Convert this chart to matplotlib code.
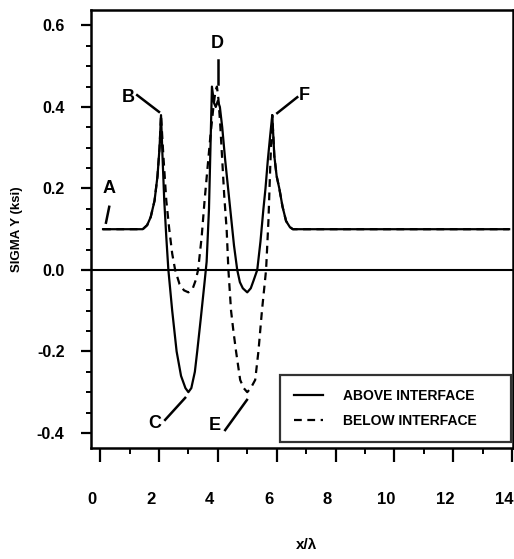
import numpy as np
import matplotlib
matplotlib.use('Agg')
import matplotlib.pyplot as plt
from matplotlib.ticker import MultipleLocator, FixedLocator
from matplotlib.transforms import ScaledTranslation

plt.rcParams['font.family'] = ['Liberation Sans', 'DejaVu Sans']
plt.rcParams['axes.unicode_minus'] = False

####################################################################################################
# Data

x_above = [0.1, 1.0, 1.45, 1.6, 1.72, 1.85, 1.95, 2.02, 2.07, 2.12, 2.18, 2.25, 2.32, 2.45, 2.6,
           2.75, 2.9, 3.0, 3.1, 3.22, 3.3, 3.42, 3.55, 3.62, 3.7, 3.75, 3.8, 3.87, 3.93, 4.0,
           4.07, 4.15, 4.25, 4.35, 4.45, 4.55, 4.66, 4.75, 4.85, 5.0, 5.12, 5.22, 5.34, 5.45,
           5.55, 5.62, 5.7, 5.78, 5.85, 5.92, 6.0, 6.09, 6.2, 6.32, 6.45, 6.55, 10.0, 13.9]
y_above = [0.1, 0.1, 0.1, 0.11, 0.13, 0.17, 0.23, 0.3, 0.38, 0.28, 0.17, 0.08, 0.0, -0.1, -0.2,
           -0.26, -0.29, -0.3, -0.29, -0.25, -0.2, -0.12, -0.03, 0.02, 0.15, 0.3, 0.45, 0.41, 0.40, 0.415,
           0.40, 0.35, 0.27, 0.2, 0.13, 0.06, 0.0, -0.03, -0.045, -0.055, -0.045, -0.025, 0.0, 0.07,
           0.15, 0.2, 0.27, 0.33, 0.38, 0.28, 0.23, 0.2, 0.155, 0.12, 0.105, 0.1, 0.1, 0.1]

x_below = [0.1, 1.0, 1.45, 1.6, 1.72, 1.85, 1.95, 2.02, 2.07, 2.15, 2.25, 2.35, 2.45, 2.55,
           2.7, 2.85, 3.0, 3.15, 3.25, 3.33, 3.45, 3.55, 3.65, 3.75, 3.85, 3.92, 3.97, 4.02,
           4.08, 4.15, 4.22, 4.3, 4.36, 4.45, 4.53, 4.62, 4.76, 4.88, 5.0, 5.12, 5.27, 5.38,
           5.5, 5.64, 5.72, 5.78, 5.85, 5.92, 6.0, 6.09, 6.2, 6.32, 6.45, 6.55, 10.0, 13.9]
y_below = [0.1, 0.1, 0.1, 0.11, 0.13, 0.17, 0.23, 0.3, 0.38, 0.28, 0.17, 0.1, 0.04, 0.0,
           -0.035, -0.05, -0.055, -0.045, -0.025, 0.0, 0.08, 0.17, 0.25, 0.33, 0.4, 0.44, 0.45, 0.42,
           0.36, 0.27, 0.18, 0.1, 0.0, -0.1, -0.15, -0.2, -0.27, -0.29, -0.3, -0.29, -0.27, -0.2,
           -0.1, 0.0, 0.12, 0.25, 0.38, 0.28, 0.23, 0.2, 0.155, 0.12, 0.105, 0.1, 0.1, 0.1]

# point labels: letter, text position, leader line start, leader line end
point_labels = ['A', 'B', 'C', 'D', 'E', 'F']
label_xy = [(0.31, 0.20), (0.95, 0.424), (1.87, -0.378), (3.97, 0.557), (3.91, -0.383), (6.94, 0.429)]
leader_from = [(0.2, 0.116), (1.26, 0.429), (2.21, -0.368), (4.02, 0.515), (4.25, -0.393), (6.70, 0.424)]
leader_to = [(0.31, 0.155), (2.0, 0.388), (2.89, -0.314), (4.02, 0.456), (4.99, -0.319), (6.02, 0.385)]

x_ticks = [0, 2, 4, 6, 8, 10, 12, 14]
y_ticks = [-0.4, -0.2, 0.0, 0.2, 0.4, 0.6]

###################################################################################################

fig = plt.figure(figsize=(5.14, 5.59), dpi=100)
ax = fig.add_axes([0.177, 0.1986, 0.821, 0.7835])

ax.plot(x_above, y_above, color='black', lw=1.6, label='ABOVE INTERFACE')
ax.plot(x_below, y_below, color='black', lw=1.6, ls=(0, (3.5, 2.5)), label='BELOW INTERFACE')
ax.axhline(0.0, color='black', lw=1.5)

for lab, (tx, ty), p0, p1 in zip(point_labels, label_xy, leader_from, leader_to):
    ax.text(tx, ty, lab, fontsize=13, fontweight='bold', ha='center', va='center')
    ax.plot([p0[0], p1[0]], [p0[1], p1[1]], color='black', lw=1.8)

ax.set_xlim(-0.31, 14.03)
ax.set_ylim(-0.437, 0.638)

ax.xaxis.set_major_locator(FixedLocator(x_ticks))
ax.xaxis.set_minor_locator(MultipleLocator(1))
ax.yaxis.set_major_locator(FixedLocator(y_ticks))
ax.yaxis.set_minor_locator(MultipleLocator(0.05))
ax.set_xticklabels([str(v) for v in x_ticks])
ax.set_yticklabels(['%.1f' % v for v in y_ticks])

ax.tick_params(axis='x', which='major', length=10, width=1.6, direction='out', pad=22, labelsize=12)
ax.tick_params(axis='x', which='minor', length=4, width=1.4, direction='out')
ax.tick_params(axis='y', which='major', length=7, width=1.6, direction='out', pad=12, labelsize=11.5)
ax.tick_params(axis='y', which='minor', length=3.5, width=1.4, direction='out')
for t in ax.get_xticklabels() + ax.get_yticklabels():
    t.set_fontweight('bold')
for t in ax.get_xticklabels():
    t.set_transform(t.get_transform() + ScaledTranslation(-8 / 100, 0, fig.dpi_scale_trans))

for s in ax.spines.values():
    s.set_linewidth(1.8)

ax.set_ylabel('SIGMA Y (ksi)', fontsize=9.5, fontweight='bold')
ax.yaxis.set_label_coords(-0.16, 0.5)
ax.set_xlabel('x/\u03bb', fontsize=11, fontweight='bold', va='center')
ax.xaxis.set_label_coords(0.51, -0.221)

leg = ax.legend(loc='lower left', bbox_to_anchor=(0.448, 0.014, 0.547, 0.182), mode='expand',
                fontsize=10, frameon=True, fancybox=False, edgecolor='black', borderaxespad=0,
                handlelength=2.1, handletextpad=1.4, labelspacing=0.8, borderpad=1.0)
leg.get_frame().set_linewidth(1.6)
for t in leg.get_texts():
    t.set_fontweight('bold')

plt.savefig('out.png', dpi=100)
